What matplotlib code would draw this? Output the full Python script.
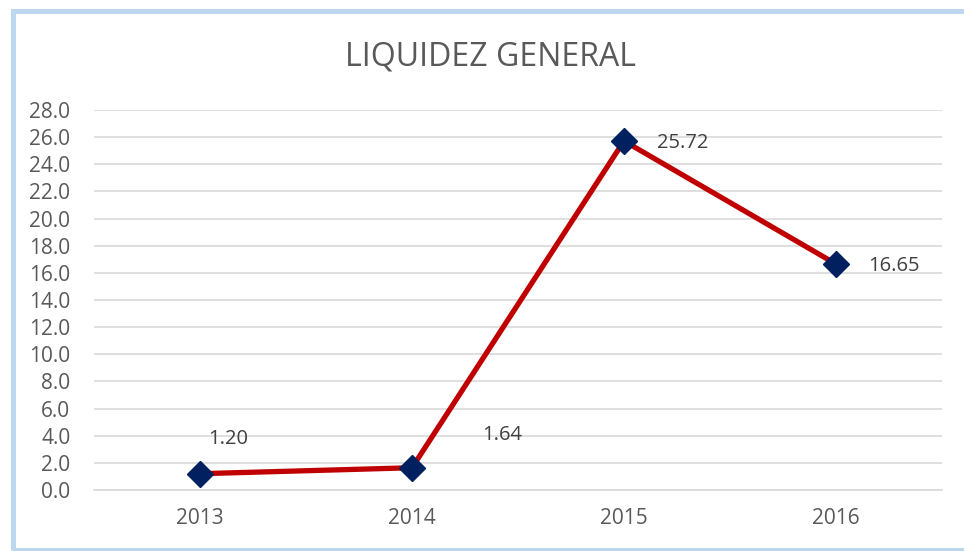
import matplotlib.pyplot as plt
from matplotlib.patches import Rectangle

years = ["2013", "2014", "2015", "2016"]
liquidez = [1.20, 1.64, 25.72, 16.65]
labels = ["1.20", "1.64", "25.72", "16.65"]
label_offsets = [(28, 35), (90, 33), (59, -2), (58, -2)]

plt.rcParams['font.family'] = ['Open Sans', 'DejaVu Sans']

fig = plt.figure(figsize=(9.64, 5.51), dpi=100)
ax = fig.add_axes([94 / 964, 61 / 551, 848 / 964, 380 / 551])

# marco del grafico
fig.patches.append(Rectangle((12.5 / 964, 1.5 / 551), 1.1, 538.5 / 551,
                             transform=fig.transFigure, fill=False,
                             edgecolor="#BDD7EE", linewidth=3.6))

x = list(range(len(years)))
ax.plot(x, liquidez, color="#C00000", linewidth=3.8, zorder=3)
ax.plot(x, liquidez, linestyle="none", marker="D", markersize=13,
        color="#002060", zorder=4)

for i in range(len(x)):
    dx, dy = label_offsets[i]
    ax.annotate(labels[i], (x[i], liquidez[i]), xytext=(dx * 0.72, dy * 0.72),
                textcoords="offset points", ha="center", va="center",
                fontsize=14.5, color="#404040")

ax.set_xlim(-0.5, 3.5)
ax.set_ylim(0, 28)
ax.set_yticks(range(0, 29, 2))
ax.set_yticklabels([f"{v:.1f}" for v in range(0, 29, 2)])
ax.set_xticks(x)
ax.set_xticklabels(years)
ax.tick_params(length=0, labelsize=15, labelcolor="#595959")
ax.tick_params(axis="y", pad=17)
ax.tick_params(axis="x", pad=13)
ax.grid(axis="y", color="#D9D9D9", linewidth=1.2)
ax.set_axisbelow(True)
for s in ["top", "right", "left"]:
    ax.spines[s].set_visible(False)
ax.spines["bottom"].set_color("#D9D9D9")
ax.spines["bottom"].set_linewidth(1.2)

fig.text(491 / 964, 1 - 57 / 551, "LIQUIDEZ GENERAL", ha="center", va="center",
         fontsize=23, color="#595959")

fig.savefig("out.png", dpi=100)
